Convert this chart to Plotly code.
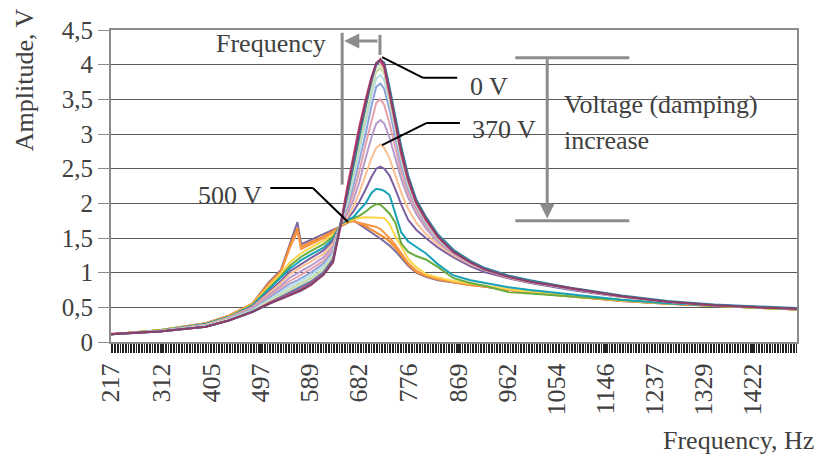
import plotly.graph_objects as go

# Frequency grid (Hz)
freq = [217, 308, 395, 438, 482, 513, 536, 553, 567, 574, 592, 616, 634, 649,
        661, 672, 683, 695, 706, 715, 723, 730, 740, 751, 762, 775, 790, 808,
        831, 860, 892, 918, 963, 1004, 1090, 1176, 1262, 1349, 1432, 1505]

# Amplitude curves (V), from 0 V (top peak) to 500 V (flattest)
amp_01 = [0.11, 0.15, 0.22, 0.31, 0.43, 0.55, 0.62, 0.67, 0.72, 0.74, 0.82, 0.97, 1.15, 1.70,
          2.2, 2.65, 3.05, 3.45, 3.8, 4.02, 4.08, 4.0, 3.62, 3.2, 2.75, 2.35, 2.02, 1.78,
          1.52, 1.3, 1.15, 1.05, 0.94, 0.87, 0.76, 0.66, 0.58, 0.53, 0.5, 0.48]
amp_02 = [0.11, 0.15, 0.22, 0.31, 0.43, 0.55, 0.63, 0.68, 0.73, 0.75, 0.83, 0.98, 1.17, 1.74,
          2.12, 2.55, 2.98, 3.4, 3.78, 4.02, 4.07, 4.03, 3.68, 3.27, 2.82, 2.4, 2.06, 1.81,
          1.55, 1.33, 1.17, 1.07, 0.96, 0.89, 0.77, 0.67, 0.59, 0.54, 0.51, 0.49]
amp_03 = [0.12, 0.15, 0.22, 0.31, 0.43, 0.56, 0.64, 0.70, 0.75, 0.77, 0.85, 0.99, 1.19, 1.74,
          2.25, 2.7, 3.1, 3.5, 3.82, 4.02, 4.05, 3.95, 3.58, 3.15, 2.7, 2.32, 2.0, 1.76,
          1.51, 1.3, 1.15, 1.06, 0.95, 0.88, 0.76, 0.66, 0.58, 0.53, 0.5, 0.48]
amp_04 = [0.11, 0.15, 0.22, 0.31, 0.44, 0.56, 0.65, 0.71, 0.77, 0.79, 0.87, 1.01, 1.20, 1.74,
          2.15, 2.58, 3.0, 3.4, 3.76, 4.0, 4.05, 3.98, 3.62, 3.2, 2.75, 2.35, 2.02, 1.78,
          1.52, 1.31, 1.16, 1.06, 0.95, 0.88, 0.76, 0.66, 0.58, 0.53, 0.5, 0.48]
amp_05 = [0.11, 0.15, 0.23, 0.32, 0.44, 0.58, 0.67, 0.74, 0.79, 0.81, 0.89, 1.03, 1.22, 1.74,
          2.1, 2.5, 2.92, 3.32, 3.7, 3.95, 4.0, 3.93, 3.57, 3.15, 2.7, 2.32, 2.0, 1.76,
          1.51, 1.3, 1.15, 1.06, 0.95, 0.88, 0.76, 0.66, 0.58, 0.53, 0.5, 0.48]
amp_06 = [0.11, 0.15, 0.23, 0.32, 0.45, 0.59, 0.69, 0.76, 0.82, 0.84, 0.92, 1.05, 1.24, 1.74,
          2.05, 2.45, 2.85, 3.25, 3.65, 3.9, 3.95, 3.87, 3.52, 3.1, 2.67, 2.3, 1.99, 1.75,
          1.5, 1.3, 1.15, 1.06, 0.95, 0.88, 0.76, 0.66, 0.58, 0.53, 0.5, 0.48]
amp_07 = [0.11, 0.16, 0.23, 0.33, 0.46, 0.61, 0.72, 0.80, 0.85, 0.88, 0.96, 1.09, 1.27, 1.74,
          2.0, 2.35, 2.75, 3.15, 3.55, 3.8, 3.85, 3.77, 3.45, 3.05, 2.62, 2.26, 1.97, 1.73,
          1.49, 1.3, 1.15, 1.06, 0.95, 0.88, 0.76, 0.66, 0.58, 0.53, 0.5, 0.48]
amp_08 = [0.11, 0.16, 0.24, 0.33, 0.47, 0.63, 0.75, 0.84, 0.89, 0.92, 1.00, 1.13, 1.30, 1.74,
          1.95, 2.25, 2.6, 3.0, 3.4, 3.68, 3.73, 3.65, 3.35, 2.95, 2.55, 2.22, 1.95, 1.71,
          1.48, 1.29, 1.14, 1.06, 0.95, 0.88, 0.76, 0.66, 0.58, 0.53, 0.5, 0.48]
amp_09 = [0.11, 0.16, 0.24, 0.34, 0.48, 0.65, 0.78, 0.88, 0.94, 0.97, 1.05, 1.17, 1.34, 1.73,
          1.9, 2.15, 2.45, 2.85, 3.2, 3.45, 3.5, 3.42, 3.15, 2.8, 2.45, 2.15, 1.9, 1.68,
          1.46, 1.28, 1.14, 1.05, 0.94, 0.87, 0.76, 0.66, 0.58, 0.53, 0.5, 0.48]
amp_10 = [0.11, 0.16, 0.24, 0.34, 0.49, 0.67, 0.81, 0.93, 0.99, 1.02, 1.10, 1.22, 1.38, 1.72,
          1.85, 2.05, 2.3, 2.65, 2.95, 3.15, 3.2, 3.15, 2.95, 2.65, 2.35, 2.08, 1.85, 1.64,
          1.44, 1.27, 1.13, 1.05, 0.94, 0.87, 0.75, 0.66, 0.58, 0.53, 0.5, 0.48]
amp_11 = [0.11, 0.16, 0.25, 0.35, 0.50, 0.70, 0.85, 0.98, 1.04, 1.08, 1.16, 1.27, 1.42, 1.72,
          1.8, 1.95, 2.15, 2.4, 2.65, 2.8, 2.85, 2.8, 2.65, 2.4, 2.15, 1.92, 1.72, 1.56,
          1.4, 1.25, 1.12, 1.04, 0.93, 0.86, 0.75, 0.65, 0.58, 0.53, 0.5, 0.48]
amp_12 = [0.11, 0.16, 0.25, 0.35, 0.51, 0.72, 0.88, 1.02, 1.09, 1.13, 1.21, 1.32, 1.46, 1.71,
          1.78, 1.88, 2.02, 2.2, 2.38, 2.5, 2.53, 2.5, 2.4, 2.2, 1.98, 1.76, 1.62, 1.5,
          1.36, 1.22, 1.09, 1.01, 0.92, 0.85, 0.74, 0.65, 0.58, 0.53, 0.5, 0.48]
amp_13 = [0.11, 0.16, 0.26, 0.36, 0.52, 0.75, 0.92, 1.06, 1.14, 1.18, 1.26, 1.36, 1.49, 1.71,
          1.76, 1.8, 1.9, 2.0, 2.15, 2.21, 2.2, 2.18, 2.12, 1.85, 1.58, 1.45, 1.37, 1.28,
          1.12, 0.96, 0.89, 0.85, 0.79, 0.75, 0.68, 0.61, 0.56, 0.53, 0.5, 0.48]
amp_14 = [0.11, 0.17, 0.26, 0.36, 0.53, 0.77, 0.95, 1.10, 1.19, 1.23, 1.31, 1.41, 1.52, 1.70,
          1.75, 1.78, 1.82, 1.88, 1.95, 1.99, 1.98, 1.93, 1.85, 1.72, 1.42, 1.3, 1.24, 1.19,
          1.08, 0.92, 0.85, 0.81, 0.72, 0.70, 0.65, 0.60, 0.56, 0.52, 0.49, 0.47]
amp_15 = [0.11, 0.17, 0.26, 0.37, 0.54, 0.80, 0.99, 1.15, 1.24, 1.28, 1.36, 1.46, 1.55, 1.69,
          1.74, 1.76, 1.79, 1.80, 1.80, 1.80, 1.80, 1.79, 1.70, 1.52, 1.38, 1.20, 1.08, 0.98,
          0.93, 0.88, 0.84, 0.81, 0.76, 0.72, 0.66, 0.60, 0.56, 0.52, 0.49, 0.47]
amp_16 = [0.11, 0.17, 0.27, 0.37, 0.55, 0.83, 1.01, 1.36, 1.60, 1.34, 1.41, 1.50, 1.58, 1.68,
          1.73, 1.74, 1.72, 1.70, 1.68, 1.66, 1.63, 1.58, 1.50, 1.40, 1.28, 1.14, 1.03, 0.96,
          0.91, 0.87, 0.83, 0.80, 0.75, 0.72, 0.65, 0.60, 0.55, 0.52, 0.49, 0.47]
amp_17 = [0.11, 0.17, 0.27, 0.38, 0.55, 0.84, 1.02, 1.39, 1.64, 1.37, 1.44, 1.52, 1.60, 1.68,
          1.72, 1.75, 1.71, 1.67, 1.62, 1.58, 1.55, 1.51, 1.45, 1.36, 1.25, 1.12, 1.01, 0.95,
          0.90, 0.86, 0.82, 0.80, 0.75, 0.71, 0.65, 0.59, 0.55, 0.52, 0.49, 0.47]
amp_18 = [0.11, 0.17, 0.27, 0.38, 0.55, 0.86, 1.04, 1.43, 1.73, 1.41, 1.47, 1.55, 1.62, 1.67,
          1.72, 1.75, 1.70, 1.64, 1.58, 1.53, 1.49, 1.45, 1.39, 1.31, 1.22, 1.10, 1.00, 0.94,
          0.89, 0.86, 0.82, 0.80, 0.75, 0.72, 0.65, 0.59, 0.55, 0.52, 0.49, 0.47]

curves = [amp_01, amp_02, amp_03, amp_04, amp_05, amp_06, amp_07, amp_08, amp_09,
          amp_10, amp_11, amp_12, amp_13, amp_14, amp_15, amp_16, amp_17, amp_18]
colors = ["#8E3D6B", "#31859C", "#D6476F", "#4F81BD", "#D7E4BD", "#C4D79B",
          "#B7DEE8", "#8EA2D8", "#E6A1AB", "#B59ACB", "#FAC090", "#7B5FA3",
          "#17A2B8", "#6AAB3F", "#FFD54A", "#F79646", "#F58A2A", "#7F6A9B"]

x_ticks = [217, 312, 405, 497, 589, 682, 776, 869, 962, 1054, 1146, 1237, 1329, 1422]
y_ticks = [0, 0.5, 1, 1.5, 2, 2.5, 3, 3.5, 4, 4.5]
y_labels = ["0", "0,5", "1", "1,5", "2", "2,5", "3", "3,5", "4", "4,5"]

FONT = "Liberation Serif, Times New Roman, serif"
TXT = "#404040"
GRAY = "#8c8c8c"

fig = go.Figure()
draw_order = list(range(len(curves)))[::-1]
for i in draw_order:
    fig.add_trace(go.Scatter(x=freq, y=curves[i], mode="lines",
                             line=dict(color=colors[i], width=2),
                             showlegend=False, hoverinfo="skip"))

shapes = []
def seg(x0, y0, x1, y1, color, width):
    shapes.append(dict(type="line", xref="x", yref="y", x0=x0, y0=y0, x1=x1, y1=y1,
                       line=dict(color=color, width=width), layer="above"))

# frequency shift markers
seg(651, 4.46, 651, 2.27, GRAY, 3)
seg(722, 4.43, 722, 4.14, GRAY, 3)
# callouts
seg(726, 4.11, 803, 3.81, "black", 2)
seg(803, 3.81, 867, 3.81, "black", 2)
seg(726, 2.84, 810, 3.16, "black", 2)
seg(810, 3.16, 872, 3.16, "black", 2)
seg(516, 2.22, 596, 2.22, "black", 2)
seg(596, 2.22, 662, 1.73, "black", 2)
# damping arrow bars
seg(976, 4.10, 1190, 4.10, GRAY, 3)
seg(976, 1.75, 1190, 1.75, GRAY, 3)

def label(x, y, text, xanchor="center", ref="x", angle=0):
    return dict(x=x, y=y, xref=ref if ref == "x" else "paper",
                yref="y" if ref == "x" else "paper", text=text, showarrow=False,
                xanchor=xanchor, yanchor="middle", textangle=angle,
                font=dict(family=FONT, size=26, color=TXT))

annotations = [
    dict(x=655, y=4.34, ax=720, ay=4.34, xref="x", yref="y", axref="x", ayref="y",
         showarrow=True, arrowhead=2, arrowsize=1, arrowwidth=3, arrowcolor=GRAY,
         text="", standoff=0, startstandoff=0),
    dict(x=1036, y=1.78, ax=1036, ay=4.10, xref="x", yref="y", axref="x", ayref="y",
         showarrow=True, arrowhead=2, arrowsize=1, arrowwidth=3, arrowcolor=GRAY,
         text="", standoff=0, startstandoff=0),
    label(517, 4.30, "Frequency"),
    label(887, 3.69, "0 V", "left"),
    label(891, 3.06, "370 V", "left"),
    label(504, 2.12, "500 V", "right"),
    label(1064, 3.42, "Voltage (damping)", "left"),
    label(1064, 2.91, "increase", "left"),
    label(-0.125, 0.84, "Amplitude, V", "center", ref="paper", angle=-90),
    label(1.027, -0.315, "Frequency, Hz", "right", ref="paper"),
]

fig.update_layout(
    width=820, height=459,
    margin=dict(l=111, r=23, t=30, b=117),
    paper_bgcolor="white", plot_bgcolor="white",
    shapes=shapes, annotations=annotations,
    xaxis=dict(range=[217, 1505], tickvals=x_ticks, ticktext=[str(v) for v in x_ticks],
               tickangle=-90, ticks="outside", ticklen=9, tickcolor="#222222", tickwidth=1,
               minor=dict(ticks="outside", dtick=3, tick0=217, ticklen=9,
                          tickcolor="#222222", tickwidth=1, showgrid=False),
               showgrid=False, zeroline=False, showline=True, mirror=True,
               linecolor=GRAY, linewidth=2,
               tickfont=dict(family=FONT, size=26, color=TXT)),
    yaxis=dict(range=[0, 4.5], tickvals=y_ticks, ticktext=y_labels,
               ticks="outside", ticklen=11, tickcolor=GRAY, tickwidth=1,
               showgrid=True, gridcolor="#5a5a5a", gridwidth=1, zeroline=False,
               showline=True, mirror=True, linecolor=GRAY, linewidth=2,
               tickfont=dict(family=FONT, size=25, color=TXT)),
)

fig.write_html("out.html")
